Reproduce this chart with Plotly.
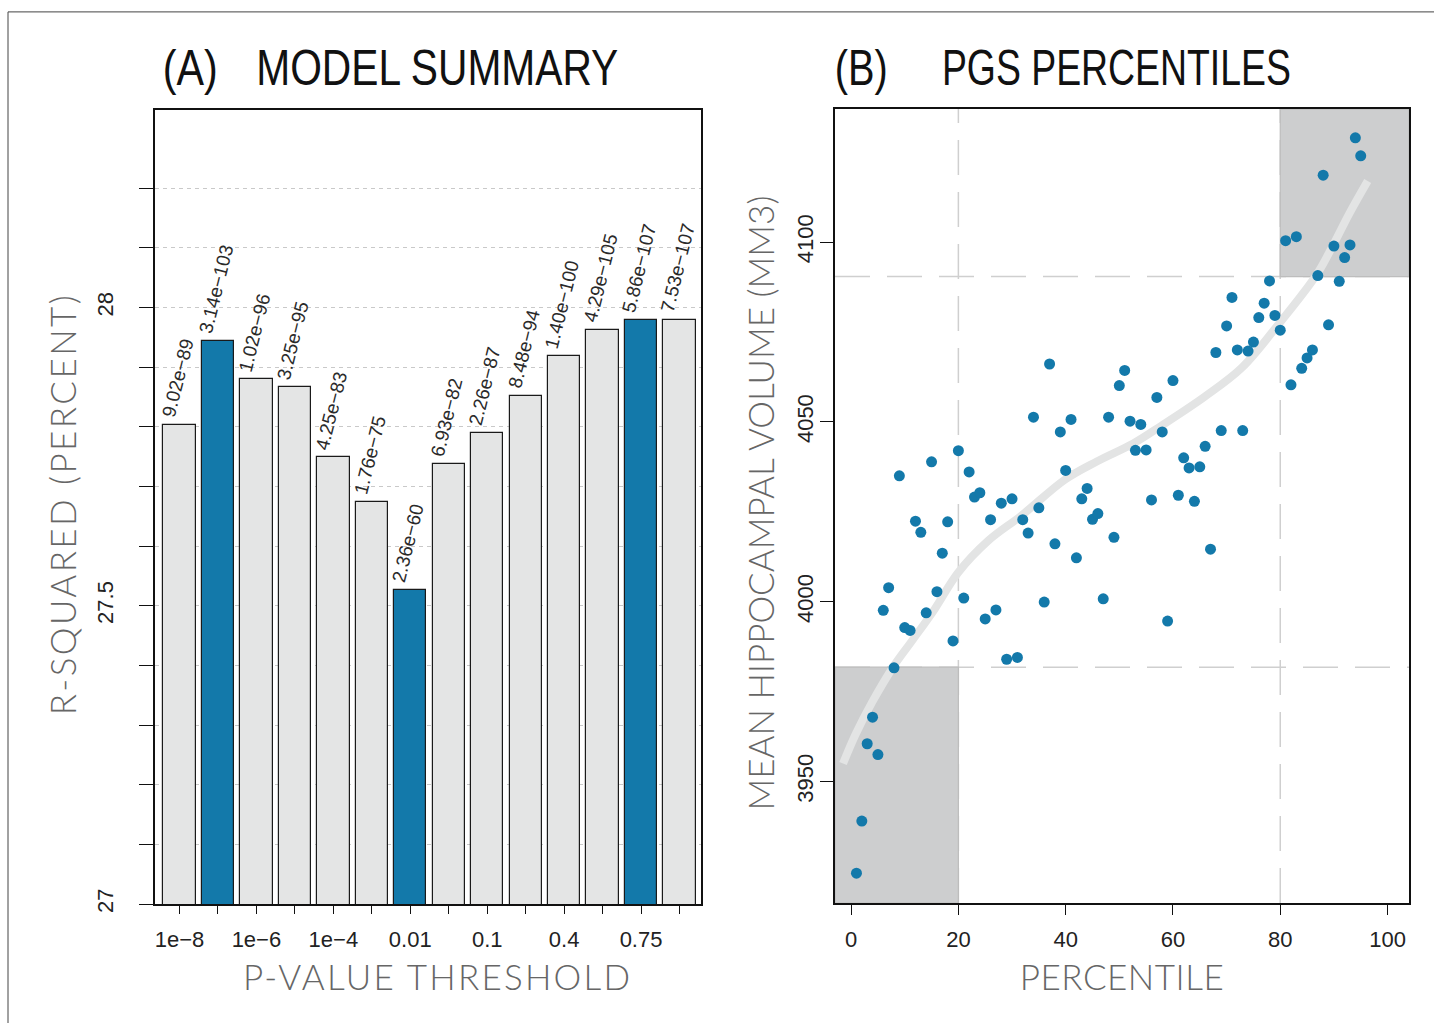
import plotly.graph_objects as go

# ---------------- Panel A data ----------------
thresholds = ["1e\u22128", "1e\u22127", "1e\u22126", "1e\u22125", "1e\u22124", "1e\u22123",
              "0.01", "0.05", "0.1", "0.2", "0.4", "0.5", "0.75", "1"]
r_squared = [27.803, 27.944, 27.880, 27.866, 27.749, 27.674, 27.527,
             27.737, 27.790, 27.852, 27.918, 27.962, 27.979, 27.979]
p_labels = ["9.02e\u221289", "3.14e\u2212103", "1.02e\u221296", "3.25e\u221295", "4.25e\u221283",
            "1.76e\u221275", "2.36e\u221260", "6.93e\u221282", "2.26e\u221287", "8.48e\u221294",
            "1.40e\u2212100", "4.29e\u2212105", "5.86e\u2212107", "7.53e\u2212107"]
highlight = [False, True, False, False, False, False, True,
             False, False, False, False, False, True, False]
shown_ticks = ["1e\u22128", "1e\u22126", "1e\u22124", "0.01", "0.1", "0.4", "0.75"]
y_major_a = [27.0, 27.5, 28.0]
y_minor_a = [27.0, 27.1, 27.2, 27.3, 27.4, 27.5, 27.6, 27.7, 27.8, 27.9, 28.0, 28.1, 28.2]

# ---------------- Panel B data ----------------
percentile = [1, 2, 3, 4, 5, 6, 7, 8, 9, 10, 11, 12, 13, 14, 15, 16, 17, 18, 19, 20,
              21, 22, 23, 24, 25, 26, 27, 28, 29, 30, 31, 32, 33, 34, 35, 36, 37, 38, 39, 40,
              41, 42, 43, 44, 45, 46, 47, 48, 49, 50, 51, 52, 53, 54, 55, 56, 57, 58, 59, 60,
              61, 62, 63, 64, 65, 66, 67, 68, 69, 70, 71, 72, 73, 74, 75, 76, 77, 78, 79, 80,
              81, 82, 83, 84, 85, 86, 87, 88, 89, 90, 91, 92, 93, 94, 95]
volume = [3924.5, 3939.0, 3960.5, 3967.9, 3957.5, 3997.6, 4003.9, 3981.6, 4035.0, 3992.8,
          3992.0, 4022.4, 4019.3, 3996.9, 4038.9, 4002.8, 4013.5, 4022.2, 3989.1, 4042.0,
          4001.0, 4036.1, 4029.1, 4030.3, 3995.2, 4022.8, 3997.7, 4027.4, 3984.0, 4028.6,
          3984.5, 4022.8, 4019.1, 4051.3, 4026.1, 3999.9, 4066.1, 4016.1, 4047.2, 4036.5,
          4050.7, 4012.2, 4028.6, 4031.5, 4022.9, 4024.5, 4000.8, 4051.3, 4017.9, 4060.1,
          4064.3, 4050.2, 4042.1, 4049.3, 4042.2, 4028.3, 4056.8, 4047.2, 3994.6, 4061.5,
          4029.6, 4040.0, 4037.2, 4027.9, 4037.5, 4043.2, 4014.6, 4069.3, 4047.6, 4076.7,
          4084.6, 4070.0, 4047.6, 4069.7, 4072.2, 4079.0, 4083.0, 4089.2, 4079.6, 4075.5,
          4100.4, 4060.3, 4101.5, 4064.9, 4067.8, 4070.0, 4090.7, 4118.6, 4077.0, 4098.9,
          4089.1, 4095.7, 4099.2, 4129.0, 4124.0]
smooth_x = [-1.5, 0.8, 3.9, 7.9, 11.3, 15.6, 19.9, 25.6, 31.8, 39.9, 45.8, 52.6,
            57.9, 65.9, 72.8, 79.6, 86.8, 89.8, 92.9, 96.3]
smooth_y = [3955, 3963, 3972, 3982, 3989, 3998, 4008, 4017, 4024, 4034, 4039, 4044,
            4049, 4057, 4065, 4077, 4091, 4099, 4108, 4117]
low_cut_pct, high_cut_pct = 20, 80
low_mean, high_mean = 3981.8, 4090.4
x_ticks_b = [0, 20, 40, 60, 80, 100]
y_ticks_b = [3950, 4000, 4050, 4100]

BLUE = "#1379aa"
GREY_BAR = "#e4e5e5"
SHADE = "#cdcecf"
W, H = 1434, 1032

TITLE_FONT = "Liberation Sans, Arial, sans-serif"
BODY_FONT = "Liberation Sans, Arial, sans-serif"
LIGHT_FONT = "Lato, Liberation Sans, sans-serif"


def px_x(p):
    return p / W


def px_y(p):
    return 1 - p / H


bar_pos = list(range(len(thresholds)))
label_pos = [i for i, t in enumerate(thresholds) if t in shown_ticks]

fig = go.Figure()

fig.add_trace(go.Bar(
    x=bar_pos, y=r_squared, width=0.84, customdata=thresholds,
    marker=dict(color=[BLUE if h else GREY_BAR for h in highlight],
                line=dict(color="#1a1a1a", width=1.2)),
    xaxis="x", yaxis="y", showlegend=False,
    hovertemplate="%{customdata}: %{y}<extra></extra>"))

fig.add_trace(go.Scatter(
    x=smooth_x, y=smooth_y, mode="lines",
    line=dict(color="#e3e4e4", width=8, shape="spline", smoothing=1.0),
    xaxis="x2", yaxis="y2", showlegend=False, hoverinfo="skip"))

fig.add_trace(go.Scatter(
    x=percentile, y=volume, mode="markers",
    marker=dict(color=BLUE, size=11, line=dict(width=0)),
    xaxis="x2", yaxis="y2", showlegend=False))

annotations = []
for i, (val, lab) in enumerate(zip(r_squared, p_labels)):
    annotations.append(dict(
        x=bar_pos[i], y=val, xref="x", yref="y", text=lab, showarrow=False,
        textangle=-76, xanchor="center", yanchor="bottom", yshift=3, xshift=-2,
        font=dict(family=BODY_FONT, size=19, color="#2a2a2a")))

title_font = dict(family=TITLE_FONT, size=50, color="#111")
light = dict(family=LIGHT_FONT, size=35, color="#666", weight=300)
annotations += [
    dict(x=px_x(190.5), y=px_y(69), xref="paper", yref="paper", text="(A)", showarrow=False,
         xanchor="center", yanchor="middle", font=title_font),
    dict(x=px_x(437), y=px_y(69), xref="paper", yref="paper", text="MODEL SUMMARY", showarrow=False,
         xanchor="center", yanchor="middle", font=title_font),
    dict(x=px_x(861.5), y=px_y(69), xref="paper", yref="paper", text="(B)", showarrow=False,
         xanchor="center", yanchor="middle", font=title_font),
    dict(x=px_x(1116.5), y=px_y(69), xref="paper", yref="paper", text="PGS PERCENTILES", showarrow=False,
         xanchor="center", yanchor="middle", font=title_font),
    dict(x=px_x(62), y=px_y(510), xref="paper", yref="paper", text="R-SQUARED (PERCENT)",
         showarrow=False, textangle=-90, xanchor="center", yanchor="middle", font=light),
    dict(x=px_x(436), y=px_y(985), xref="paper", yref="paper", text="P-VALUE THRESHOLD",
         showarrow=False, xanchor="center", yanchor="middle", font=light),
    dict(x=px_x(1121), y=px_y(985), xref="paper", yref="paper", text="PERCENTILE",
         showarrow=False, xanchor="center", yanchor="middle", font=light),
    dict(x=px_x(760), y=px_y(508), xref="paper", yref="paper", text="MEAN HIPPOCAMPAL VOLUME (MM3)",
         showarrow=False, textangle=-90, xanchor="center", yanchor="middle", font=light),
]

dash_line = dict(color="#cfcfcf", width=1.5, dash="35px,17px")
shapes = [
    dict(type="line", xref="paper", yref="paper", x0=px_x(8), x1=1, y0=px_y(12), y1=px_y(12),
         line=dict(color="#444", width=1)),
    dict(type="line", xref="paper", yref="paper", x0=px_x(8), x1=px_x(8), y0=px_y(12), y1=0,
         line=dict(color="#444", width=1)),
    dict(type="line", xref="x2", yref="y2 domain", x0=low_cut_pct, x1=low_cut_pct, y0=0, y1=1,
         line=dash_line, layer="below"),
    dict(type="line", xref="x2", yref="y2 domain", x0=high_cut_pct, x1=high_cut_pct, y0=0, y1=1,
         line=dash_line, layer="below"),
    dict(type="line", xref="x2 domain", yref="y2", x0=0, x1=1, y0=low_mean, y1=low_mean,
         line=dash_line, layer="below"),
    dict(type="line", xref="x2 domain", yref="y2", x0=0, x1=1, y0=high_mean, y1=high_mean,
         line=dash_line, layer="below"),
    dict(type="rect", xref="x2", yref="y2", x0=-3.0, x1=low_cut_pct, y0=3916.2, y1=low_mean,
         fillcolor=SHADE, line=dict(color="#bdbdbd", width=1.2), layer="below"),
    dict(type="rect", xref="x2", yref="y2", x0=high_cut_pct, x1=104.0, y0=high_mean, y1=4137.0,
         fillcolor=SHADE, line=dict(color="#bdbdbd", width=1.2), layer="below"),
]

tick_font = dict(family=BODY_FONT, size=22, color="#222")

fig.update_layout(
    width=W, height=H, margin=dict(l=0, r=0, t=0, b=0),
    paper_bgcolor="white", plot_bgcolor="white",
    bargap=0,
    xaxis=dict(domain=[px_x(155), px_x(701)], anchor="y",
               range=[-0.637, 13.559],
               tickmode="array", tickvals=label_pos, ticktext=shown_ticks,
               ticks="outside", ticklen=8, tickcolor="#111", tickwidth=1.2,
               minor=dict(tickvals=bar_pos, ticks="outside", ticklen=8,
                          tickcolor="#111", tickwidth=1.2, showgrid=False),
               ticklabelstandoff=7,
               showline=True, linecolor="#111", linewidth=1.5, mirror=True,
               showgrid=False, zeroline=False, tickfont=tick_font),
    yaxis=dict(domain=[px_y(912), px_y(111)], anchor="x",
               range=[27.0, 28.331],
               tickmode="array", tickvals=y_major_a,
               tickangle=-90, ticks="outside", ticklen=14, tickcolor="#111", tickwidth=1.2,
               minor=dict(tickvals=y_minor_a, ticks="outside", ticklen=14,
                          tickcolor="#111", tickwidth=1.2, showgrid=True,
                          gridcolor="#c9c9c9", griddash="4px,4px", gridwidth=1),
               ticklabelstandoff=17,
               showline=True, linecolor="#111", linewidth=1.5, mirror=True,
               showgrid=True, gridcolor="#c9c9c9", griddash="4px,4px", gridwidth=1,
               zeroline=False, tickfont=tick_font),
    xaxis2=dict(domain=[px_x(835), px_x(1409)], anchor="y2",
                range=[-3.0, 104.0],
                tickmode="array", tickvals=x_ticks_b,
                ticks="outside", ticklen=10, tickcolor="#111", tickwidth=1.2,
                ticklabelstandoff=6,
                showline=True, linecolor="#111", linewidth=1.5, mirror=True,
                showgrid=False, zeroline=False, tickfont=tick_font),
    yaxis2=dict(domain=[px_y(911), px_y(110)], anchor="x2",
                range=[3916.2, 4137.0],
                tickmode="array", tickvals=y_ticks_b,
                tickangle=-90, ticks="outside", ticklen=13, tickcolor="#111", tickwidth=1.2,
                ticklabelstandoff=-2,
                showline=True, linecolor="#111", linewidth=1.5, mirror=True,
                showgrid=False, zeroline=False, tickfont=tick_font),
    annotations=annotations,
    shapes=shapes,
)

post = """
(function () {
  var de = document.documentElement, b = document.body;
  [de, b].forEach(function (el) {
    el.style.margin = '0'; el.style.padding = '0';
    el.style.overflow = 'hidden';
    el.style.width = '1434px'; el.style.height = '1032px';
  });
  var gd = document.getElementById('{plot_id}');
  var wrap = gd.parentElement;
  wrap.style.height = '1032px'; wrap.style.width = '1434px';
  wrap.style.overflow = 'hidden'; wrap.style.lineHeight = '0';
  gd.style.display = 'block';
  var fit = {
    '(A)': [55, 'spacingAndGlyphs'],
    'MODEL SUMMARY': [362, 'spacingAndGlyphs'],
    '(B)': [53, 'spacingAndGlyphs'],
    'PGS PERCENTILES': [349, 'spacingAndGlyphs'],
    'R-SQUARED (PERCENT)': [420, 'spacing'],
    'P-VALUE THRESHOLD': [387, 'spacing'],
    'PERCENTILE': [204, 'spacing'],
    'MEAN HIPPOCAMPAL VOLUME (MM3)': [615, 'spacing']
  };
  function applyFit() {
    gd.querySelectorAll('text.annotation-text').forEach(function (t) {
      var f = fit[t.textContent];
      if (f) {
        t.setAttribute('textLength', f[0]);
        t.setAttribute('lengthAdjust', f[1]);
      }
    });
  }
  applyFit();
  gd.on('plotly_afterplot', applyFit);
  setTimeout(applyFit, 50);
  setTimeout(applyFit, 300);
})();
"""

fig.write_html("out.html", post_script=post, config={"displayModeBar": False})
